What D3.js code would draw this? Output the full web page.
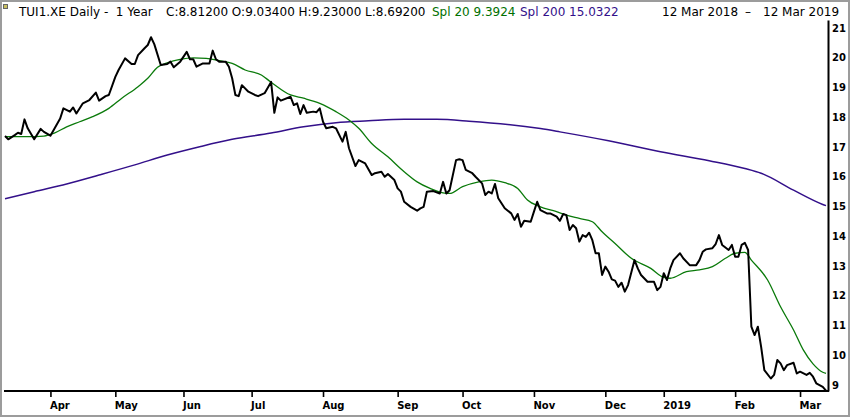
<!DOCTYPE html>
<html><head><meta charset="utf-8">
<script src="https://cdn.jsdelivr.net/npm/d3@7/dist/d3.min.js"></script>
<style>
html,body{margin:0;padding:0;background:#fff;}
svg{display:block;}
</style></head>
<body>
<script>
// ---- DATA ----
const yTickValues = [9,10,11,12,13,14,15,16,17,18,19,20,21];
const monthLabels = ["Apr","May","Jun","Jul","Aug","Sep","Oct","Nov","Dec","2019","Feb","Mar"];
const monthTickDays = [14,34,55,76,98,121,141,163,185,203,225,245]; // trading-day index of first session
const lastDay = 253;

const closeDays = [0,1,3,4,5,6,7,9,11,12,14,15,17,18,20,21,22,24,26,28,29,31,32,34,35,37,39,40,41,43,44,45,46,48,50,51,52,54,56,57,58,59,61,63,64,65,66,68,69,70,71,72,73,75,77,78,80,82,83,84,85,88,89,90,91,92,93,95,96,97,98,99,101,102,104,105,106,108,109,111,113,114,116,117,118,120,121,122,123,125,127,128,129,130,132,134,135,136,137,139,140,141,142,144,145,147,148,149,150,151,152,154,156,157,158,159,160,162,163,164,165,167,168,170,171,172,173,174,175,176,177,178,179,180,181,182,183,184,185,186,187,188,189,190,191,192,194,195,196,198,200,201,202,203,204,205,206,208,209,211,213,214,215,216,218,219,220,221,223,224,225,226,227,228,229,230,231,232,233,234,236,237,238,239,240,241,243,244,245,247,248,249,250,252,253];
const closeValues = [17.37,17.26,17.40,17.48,17.44,17.93,17.63,17.26,17.61,17.51,17.38,17.57,17.96,18.30,18.19,18.33,18.13,18.47,18.58,18.83,18.56,18.71,18.75,19.36,19.59,19.98,19.79,19.79,20.09,20.32,20.43,20.69,20.46,19.76,19.79,19.87,19.68,19.87,20.20,19.95,19.95,19.70,19.81,19.81,20.24,19.95,19.87,19.87,19.70,19.31,18.75,18.71,19.08,18.86,18.75,18.71,18.81,19.19,18.15,18.67,18.56,18.69,18.41,18.47,18.11,18.41,18.15,18.19,18.17,18.30,17.85,17.63,17.68,17.63,17.18,17.51,16.96,16.36,16.56,16.45,16.06,16.12,16.17,16.00,16.09,15.89,15.61,15.50,15.16,14.99,14.86,14.94,14.99,15.50,15.52,15.44,15.83,15.44,15.55,16.56,16.59,16.56,16.23,16.12,16.00,15.78,15.39,15.50,15.44,15.76,15.28,14.94,14.77,14.55,14.75,14.32,14.52,14.49,14.83,15.16,14.88,14.77,14.77,14.66,14.52,14.75,14.71,14.21,14.38,14.27,13.82,14.04,13.98,14.12,13.87,13.43,13.43,12.70,12.98,12.81,12.55,12.51,12.30,12.44,12.14,12.36,13.20,12.92,12.70,12.47,12.47,12.19,12.30,12.76,12.53,12.92,13.20,13.43,13.26,13.03,13.03,13.20,13.48,13.56,13.60,13.74,14.04,13.71,13.54,13.71,13.31,13.31,13.71,13.78,13.54,10.96,10.68,10.96,10.29,9.50,9.22,9.34,9.84,9.73,9.50,9.67,9.75,9.39,9.45,9.34,9.41,9.28,9.06,8.94,8.81];

const spl20Days = [0,3,7,12,15,19,23,27,32,36,41,44,47,50,54,58,62,66,70,74,79,82,88,92,97,102,106,109,113,118,123,127,131,135,137,141,146,150,154,158,161,165,169,173,177,181,184,188,193,199,203,205,210,214,218,222,225,228,230,235,239,243,246,249,252,253];
const spl20Values = [17.35,17.35,17.35,17.37,17.46,17.68,17.85,18.02,18.30,18.64,19.03,19.31,19.68,19.83,19.95,20.00,19.98,19.90,19.81,19.59,19.42,19.18,18.75,18.64,18.47,18.19,17.91,17.63,17.12,16.67,16.17,15.83,15.61,15.46,15.44,15.67,15.83,15.89,15.80,15.61,15.22,14.99,14.86,14.71,14.60,14.49,14.15,13.76,13.26,12.92,12.62,12.59,12.81,12.87,12.98,13.26,13.43,13.46,13.20,12.53,11.63,10.85,10.18,9.71,9.43,9.39];

const spl200Days = [0,9,19,29,40,50,60,70,82,92,102,112,123,133,143,165,171,186,202,217,228,233,243,252,253];
const spl200Values = [15.26,15.50,15.76,16.06,16.40,16.73,17.01,17.26,17.47,17.68,17.82,17.88,17.93,17.93,17.87,17.62,17.51,17.21,16.84,16.54,16.28,16.12,15.55,15.07,15.03];

// ---- CHART ----
const W = 850, H = 417;
const svg = d3.select("body").append("svg").attr("width", W).attr("height", H);

svg.append("rect").attr("x",1).attr("y",1).attr("width",W-2).attr("height",H-2)
  .attr("fill","#fff").attr("stroke","#9c9c9c").attr("stroke-width",2);

const x = d3.scaleLinear().domain([0, lastDay]).range([5, 826]);
const y = d3.scaleLinear().domain([8.8, 21.27]).range([391, 20]);

// title
svg.append("rect").attr("x",3.5).attr("y",4.5).attr("width",4).attr("height",4)
  .attr("fill","#c9c060").attr("stroke","#666").attr("stroke-width",1);
const titleSpans = [
  {t:"TUI1.XE Daily -  1 Year", x:19, c:"#000"},
  {t:"C:8.81200 O:9.03400 H:9.23000 L:8.69200", x:166, c:"#000"},
  {t:"Spl 20 9.3924", x:432, c:"#007000"},
  {t:"Spl 200 15.0322", x:520, c:"#33108a"},
  {t:"12 Mar 2018", x:662, c:"#000"},
  {t:"–", x:745, c:"#000"},
  {t:"12 Mar 2019", x:763, c:"#000"}
];
svg.append("g").selectAll("text").data(titleSpans).join("text")
  .attr("x", d=>d.x).attr("y", 16)
  .attr("xml:space","preserve").style("white-space","pre")
  .attr("font-family","DejaVu Sans, Verdana, sans-serif").attr("font-size", 12)
  .attr("fill", d=>d.c).text(d=>d.t);

// lines
const mk = (days, vals) => days.map((d,i)=>[d, vals[i]]);

svg.append("path").datum(mk(spl200Days, spl200Values))
  .attr("d", d3.line().x(d=>x(d[0])).y(d=>y(d[1])).curve(d3.curveMonotoneX)).attr("fill","none")
  .attr("stroke","#33108a").attr("stroke-width",1.5);
svg.append("path").datum(mk(spl20Days, spl20Values))
  .attr("d", d3.line().x(d=>x(d[0])).y(d=>y(d[1])).curve(d3.curveMonotoneX)).attr("fill","none")
  .attr("stroke","#0a7a0a").attr("stroke-width",1.3);
svg.append("path").datum(mk(closeDays, closeValues))
  .attr("d", d3.line().x(d=>x(d[0])).y(d=>y(d[1]))).attr("fill","none")
  .attr("stroke","#000").attr("stroke-width",2).attr("stroke-linejoin","round");

// bottom axis
const xAxis = d3.axisBottom(x).tickValues(monthTickDays)
  .tickFormat((d,i)=>monthLabels[i]).tickSize(6).tickSizeOuter(0).tickPadding(5);
const gx = svg.append("g").attr("transform","translate(0,391)").call(xAxis);
gx.select(".domain").remove();
gx.selectAll(".tick line").attr("stroke","#000").attr("stroke-width",1.6);
gx.selectAll(".tick text").attr("text-anchor","start").attr("x",-1)
  .attr("font-family","DejaVu Sans, Verdana, sans-serif").attr("font-weight","bold")
  .attr("font-size",10).attr("fill","#000");
svg.append("line").attr("x1", x(0)-1).attr("x2", 829).attr("y1", 391).attr("y2", 391)
  .attr("stroke","#000").attr("stroke-width",2);

// right axis
const yAxis = d3.axisRight(y).tickValues(yTickValues).tickSize(0).tickPadding(4).tickFormat(d3.format("d"));
const gy = svg.append("g").attr("transform","translate(828,0)").call(yAxis);
gy.select(".domain").attr("stroke","#000").attr("stroke-width",2);
gy.selectAll(".tick text").attr("font-family","DejaVu Sans, Verdana, sans-serif")
  .attr("font-weight","bold").attr("font-size",10).attr("fill","#000");
</script>
</body></html>
